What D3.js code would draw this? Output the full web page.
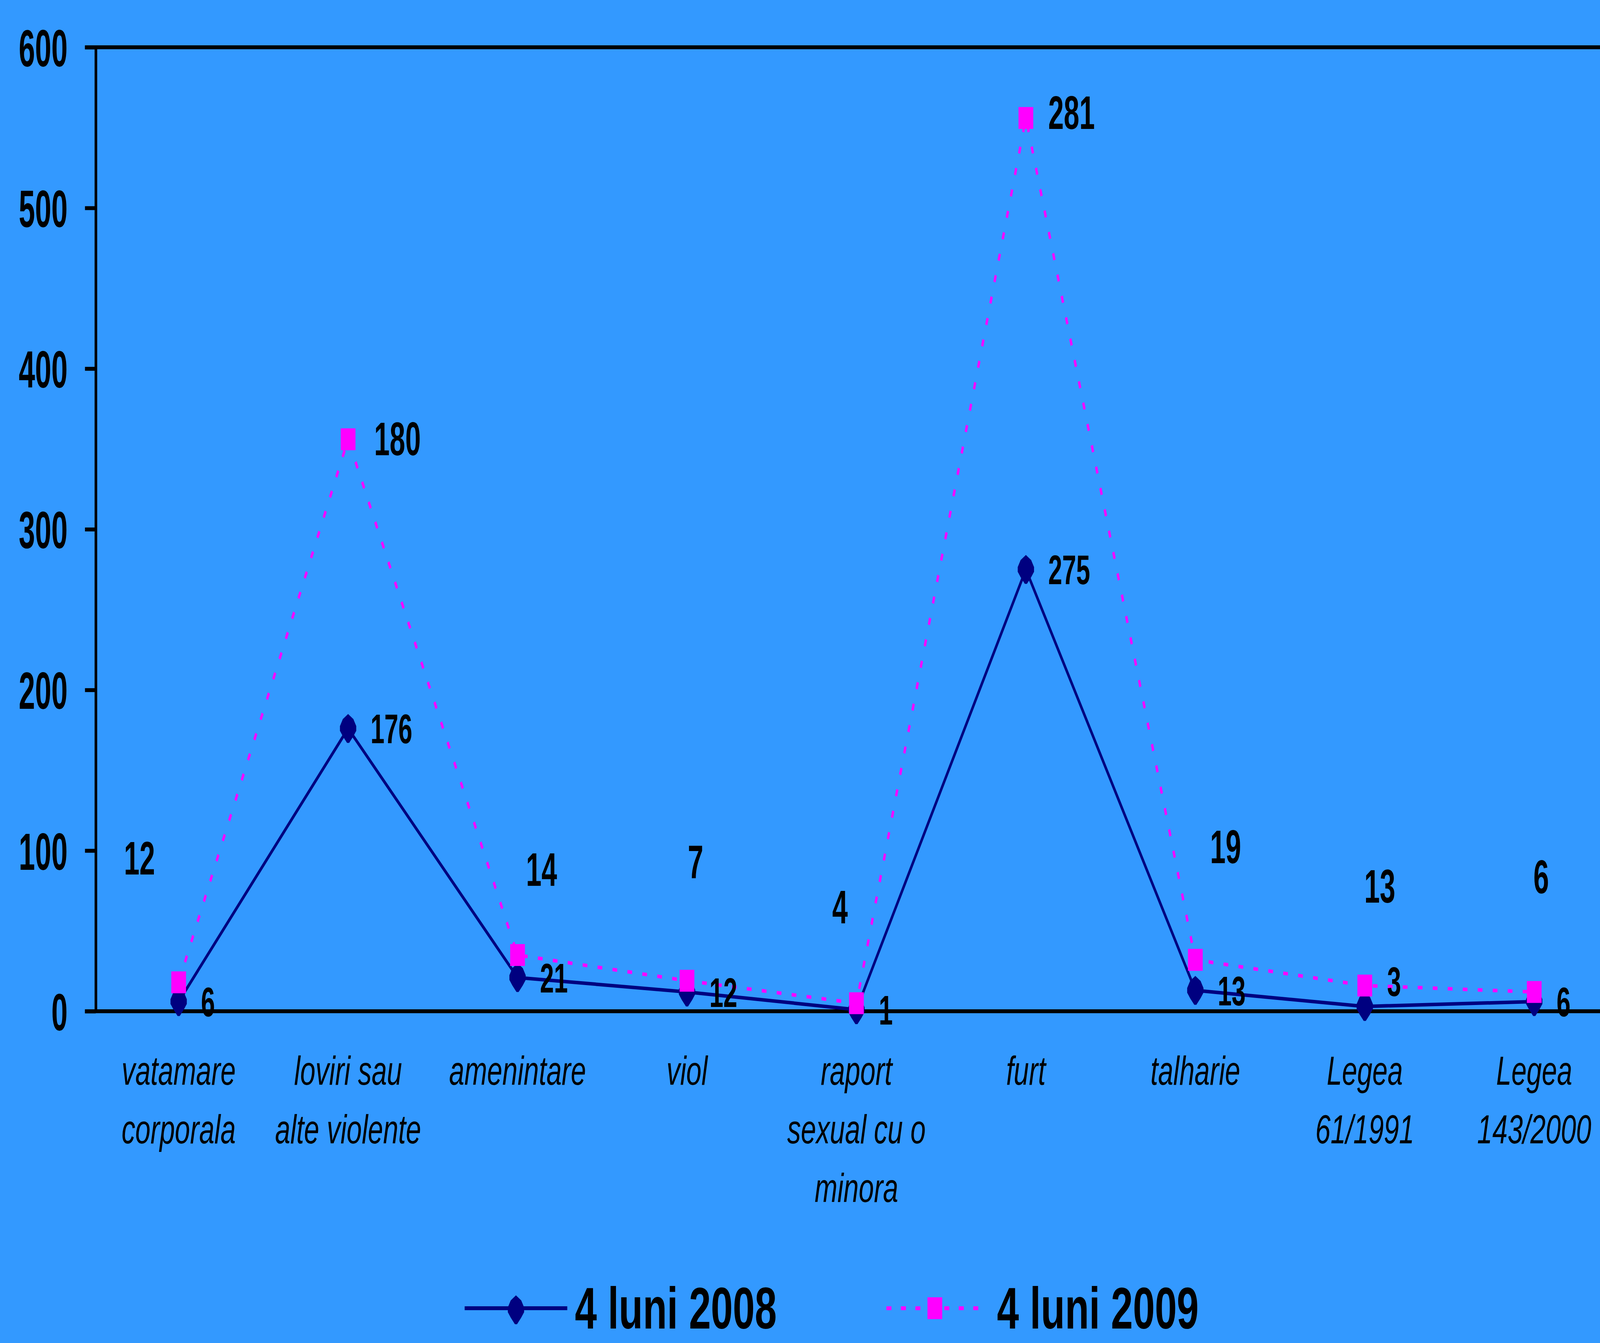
<!DOCTYPE html>
<html>
<head>
<meta charset="utf-8">
<script src="https://cdn.jsdelivr.net/npm/d3@7"></script>
<style>
  html, body { margin: 0; padding: 0; background: #3399FF; overflow: hidden; width: 100%; height: 100%; }
  svg { display: block; width: 100vw; height: 100vh; }
</style>
</head>
<body>
<svg id="chart" viewBox="0 0 6081 3437" preserveAspectRatio="none"></svg>
<script>
// ---- data ----
const categories = ["vatamare corporala", "loviri sau alte violente", "amenintare", "viol",
  "raport sexual cu o minora", "furt", "talharie", "Legea 61/1991", "Legea 143/2000"];
const categoryLines = [["vatamare", "corporala"], ["loviri sau", "alte violente"], ["amenintare"], ["viol"],
  ["raport", "sexual cu o", "minora"], ["furt"], ["talharie"], ["Legea", "61/1991"], ["Legea", "143/2000"]];
const series2008 = [6, 176, 21, 12, 1, 275, 13, 3, 6];
const series2009 = [12, 180, 14, 7, 4, 281, 19, 13, 6];
const seriesNames = ["4 luni 2008", "4 luni 2009"];
const yTicks = [0, 100, 200, 300, 400, 500, 600];

// label placement tweaks (layout only): [dx, dy] in px from the point
const labelNudge2008 = [[85, 0], [85, 0], [85, 0], [85, 0], [85, 0], [85, 0], [85, 0], [85, -65], [85, 0]];
const labelNudge2009 = [[-208, -319], [99, -2], [32, -220], [3, -306], [-92, -247], [85, -15], [56, -290], [-2, -255], [-3, -296]];

// ---- layout ----
const W = 6081, H = 3437;
const plotLeft = 364, plotTop = 121, plotBottom = 2588;
const band = 644;
const BG = "#3399FF", NAVY = "#000080", MAG = "#FF00FF";
const FONT = "'Liberation Sans', Arial, Helvetica, sans-serif";

const svg = d3.select("#chart");
svg.append("rect").attr("width", W).attr("height", H).attr("fill", BG);

const x = d3.scaleBand().domain(categories).range([plotLeft - 7, plotLeft - 7 + band * categories.length]).padding(0);
const cx = c => x(c) + x.bandwidth() / 2;
const y = d3.scaleLinear().domain([0, 600]).range([plotBottom, plotTop]);

function condense(sel, f) {
  sel.each(function () {
    const len = this.getComputedTextLength();
    d3.select(this).attr("textLength", len * f).attr("lengthAdjust", "spacingAndGlyphs");
  });
}

// top border
svg.append("line").attr("x1", plotLeft - 41).attr("x2", W + 10)
  .attr("y1", y(600)).attr("y2", y(600)).attr("stroke", "#000").attr("stroke-width", 10);
// zero line
svg.append("line").attr("x1", plotLeft - 41).attr("x2", W + 10)
  .attr("y1", y(0)).attr("y2", y(0)).attr("stroke", "#000").attr("stroke-width", 10);

// y axis
const yAxis = d3.axisLeft(y).tickValues(yTicks).tickSize(41).tickSizeOuter(0).tickPadding(66).tickFormat(d3.format("d"));
const gy = svg.append("g").attr("transform", `translate(${plotLeft},0)`).call(yAxis);
gy.select(".domain").attr("stroke", "#000").attr("stroke-width", 10);
gy.selectAll(".tick line").attr("stroke", "#000").attr("stroke-width", 10);
gy.selectAll(".tick text").attr("font-family", FONT).attr("font-weight", "bold")
  .attr("font-size", 134).attr("fill", "#000").attr("dy", "0.36em");
condense(gy.selectAll(".tick text"), 0.83);

// category labels
const gx = svg.append("g");
categories.forEach((c, i) => {
  const t = gx.append("text").attr("x", cx(c)).attr("y", 2776)
    .attr("text-anchor", "middle").attr("font-family", FONT).attr("font-style", "italic")
    .attr("font-size", 104).attr("fill", "#000");
  categoryLines[i].forEach((ln, j) => {
    t.append("tspan").attr("x", cx(c)).attr("y", 2776 + j * 150).text(ln);
  });
});

// stacked values
const cum2008 = series2008.slice();
const cum2009 = series2009.map((v, i) => v + series2008[i]);

const line = d3.line().x((d, i) => cx(categories[i])).y(d => y(d));

const diamond = "M0,-37 L20,-24 L31,-6 L31,6 L20,20 L4,37 L-4,37 L-20,20 L-31,6 L-31,-6 L-20,-24 Z";

// 2008 series
svg.append("path").datum(cum2008).attr("d", line).attr("fill", "none")
  .attr("stroke", NAVY).attr("stroke-width", 9).attr("stroke-linejoin", "round");
svg.append("g").selectAll("path").data(cum2008).join("path")
  .attr("d", diamond).attr("fill", NAVY)
  .attr("transform", (d, i) => `translate(${cx(categories[i])},${y(d)})`);

// 2009 series
svg.append("path").datum(cum2009).attr("d", line).attr("fill", "none")
  .attr("stroke", MAG).attr("stroke-width", 9).attr("stroke-dasharray", "18 39");
svg.append("g").selectAll("rect").data(cum2009).join("rect")
  .attr("x", (d, i) => cx(categories[i]) - 28).attr("y", d => y(d) - 28)
  .attr("width", 56).attr("height", 56).attr("fill", MAG);

// data labels 2008
const l08 = svg.append("g").selectAll("text").data(series2008).join("text")
  .attr("x", (d, i) => cx(categories[i]) + labelNudge2008[i][0])
  .attr("y", (d, i) => y(cum2008[i]) + labelNudge2008[i][1] + 38)
  .attr("font-family", FONT).attr("font-weight", "bold").attr("font-size", 106)
  .attr("fill", "#000").text(d => d);
condense(l08, 0.9);

// data labels 2009
const l09 = svg.append("g").selectAll("text").data(series2009).join("text")
  .attr("x", (d, i) => cx(categories[i]) + labelNudge2009[i][0])
  .attr("y", (d, i) => y(cum2009[i]) + labelNudge2009[i][1] + 43)
  .attr("font-family", FONT).attr("font-weight", "bold").attr("font-size", 120)
  .attr("fill", "#000").text(d => d);
condense(l09, 0.885);

// legend
const lg = svg.append("g");
const legY = 3348;
lg.append("line").attr("x1", 1766).attr("x2", 2156).attr("y1", legY).attr("y2", legY)
  .attr("stroke", NAVY).attr("stroke-width", 10);
lg.append("path").attr("d", diamond).attr("fill", NAVY).attr("transform", `translate(1961,${legY + 4})`);
const lt1 = lg.append("text").attr("x", 2185).attr("y", 3400).attr("font-family", FONT)
  .attr("font-weight", "bold").attr("font-size", 150).attr("fill", "#000").text(seriesNames[0]);
condense(lt1, 1.0);
lg.append("line").attr("x1", 3369).attr("x2", 3728).attr("y1", legY).attr("y2", legY)
  .attr("stroke", MAG).attr("stroke-width", 10).attr("stroke-dasharray", "19 36");
lg.append("rect").attr("x", 3553 - 28).attr("y", legY - 28).attr("width", 56).attr("height", 56).attr("fill", MAG);
const lt2 = lg.append("text").attr("x", 3789).attr("y", 3400).attr("font-family", FONT)
  .attr("font-weight", "bold").attr("font-size", 150).attr("fill", "#000").text(seriesNames[1]);
condense(lt2, 1.0);
</script>
</body>
</html>
